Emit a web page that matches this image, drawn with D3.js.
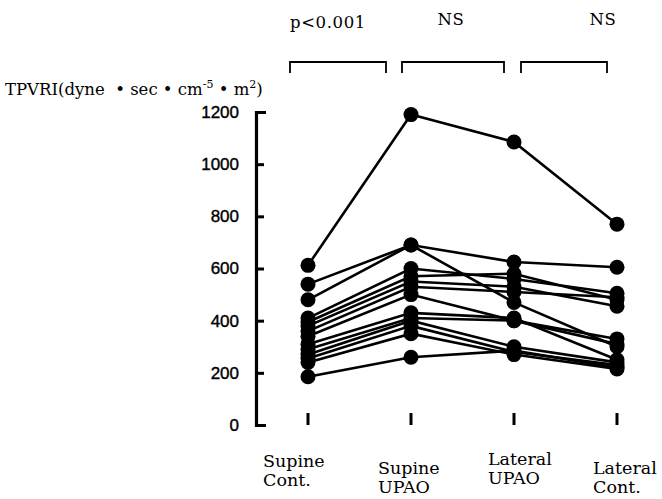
<!DOCTYPE html>
<html>
<head>
<meta charset="utf-8">
<script src="https://cdn.jsdelivr.net/npm/d3@7"></script>
<style>
  body { margin: 0; background: #fff; }
  svg { display: block; }
</style>
</head>
<body>
<div id="chart"></div>
<script>
// conditions on the x axis
var conditions = ['Supine Cont.', 'Supine UPAO', 'Lateral UPAO', 'Lateral Cont.'];
var condLines = [['Supine', 'Cont.'], ['Supine', 'UPAO'], ['Lateral', 'UPAO'], ['Lateral', 'Cont.']];

// TPVRI per subject, one array per condition (same subject order)
var supineCont  = [612, 540, 480, 410, 395, 380, 360, 340, 310, 290, 270, 255, 240, 185];
var supineUPAO  = [1190, 690, 690, 600, 570, 550, 530, 500, 430, 410, 400, 380, 350, 260];
var lateralUPAO = [1085, 625, 470, 560, 580, 530, 510, 400, 410, 400, 300, 280, 270, 285];
var lateralCont = [770, 605, 300, 505, 480, 455, 490, 310, 250, 330, 240, 230, 215, 220];

var yTicks = [0, 200, 400, 600, 800, 1000, 1200];

// comparisons between neighbouring conditions
var compLabels = ['p<0.001', 'NS', 'NS'];

var W = 662, H = 499;
var svg = d3.select('#chart').append('svg')
  .attr('width', W)
  .attr('height', H);

var x = d3.scalePoint()
  .domain(conditions)
  .range([308, 617]);

var y = d3.scaleLinear()
  .domain([0, 1200])
  .range([425, 112]);

var subjects = supineCont.map(function(d, i) {
  return [supineCont[i], supineUPAO[i], lateralUPAO[i], lateralCont[i]];
});

// y axis: ticks point into the plot
var yAxis = d3.axisLeft(y)
  .tickValues(yTicks)
  .tickSizeInner(-8)
  .tickSizeOuter(-10)
  .tickPadding(17)
  .tickFormat(d3.format('d'));

var gy = svg.append('g')
  .attr('transform', 'translate(256,0)')
  .call(yAxis);
gy.select('.domain').attr('stroke', '#000').attr('stroke-width', 3.2);
gy.selectAll('.tick line').attr('stroke', '#000').attr('stroke-width', 3);
gy.selectAll('.tick text')
  .attr('fill', '#000')
  .attr('stroke', '#000')
  .attr('stroke-width', 0.4)
  .style('font-family', '"Liberation Sans", Arial, sans-serif')
  .style('font-size', '17px');

// small ticks under each condition
svg.selectAll('.xtick')
  .data(conditions)
  .enter()
  .append('line')
  .attr('class', 'xtick')
  .attr('x1', function(d) { return x(d); })
  .attr('x2', function(d) { return x(d); })
  .attr('y1', 413)
  .attr('y2', 425)
  .attr('stroke', '#000')
  .attr('stroke-width', 3);

// x labels, staggered like the original
var labelDx = [-45, -33, -26, -24];
var labelY = [467, 474, 465, 474];
var xl = svg.selectAll('.xlabel')
  .data(condLines)
  .enter()
  .append('text')
  .attr('class', 'xlabel')
  .attr('x', function(d, i) { return x(conditions[i]) + labelDx[i]; })
  .attr('y', function(d, i) { return labelY[i]; })
  .style('font-family', '"DejaVu Serif", serif')
  .style('font-size', '17.5px')
  .attr('fill', '#000');
xl.each(function(d, i) {
  var t = d3.select(this);
  t.append('tspan').attr('x', x(conditions[i]) + labelDx[i]).text(d[0]);
  t.append('tspan').attr('x', x(conditions[i]) + labelDx[i]).attr('dy', 19).text(d[1]);
});

// subject lines
var line = d3.line()
  .x(function(d, i) { return x(conditions[i]); })
  .y(function(d) { return y(d); });

svg.selectAll('.subj')
  .data(subjects)
  .enter()
  .append('path')
  .attr('class', 'subj')
  .attr('d', line)
  .attr('fill', 'none')
  .attr('stroke', '#000')
  .attr('stroke-width', 2.6);

// dots
var pts = [];
subjects.forEach(function(s) {
  s.forEach(function(v, i) { pts.push({c: conditions[i], v: v}); });
});
svg.selectAll('.dot')
  .data(pts)
  .enter()
  .append('circle')
  .attr('class', 'dot')
  .attr('cx', function(d) { return x(d.c); })
  .attr('cy', function(d) { return y(d.v); })
  .attr('r', 7.5)
  .attr('fill', '#000');

// y label
var yl = svg.append('text')
  .attr('x', 5)
  .attr('y', 95)
  .style('font-family', '"DejaVu Serif", serif')
  .style('font-size', '16.5px')
  .attr('fill', '#000');
yl.append('tspan').text('TPVRI(dyne \u00a0\u2022 sec \u2022 cm');
yl.append('tspan').attr('dy', -7).style('font-size', '11px').text('-5');
yl.append('tspan').attr('dy', 7).text(' \u2022 m');
yl.append('tspan').attr('dy', -7).style('font-size', '11px').text('2');
yl.append('tspan').attr('dy', 7).text(')');

// comparison brackets
var brackets = [[290, 386], [402, 504], [521, 607]];
var textPos = [[290, 28, 'start'], [451, 25, 'middle'], [603, 25, 'middle']];
svg.selectAll('.bracket')
  .data(brackets)
  .enter()
  .append('path')
  .attr('class', 'bracket')
  .attr('d', function(d) {
    return 'M' + d[0] + ',73V62H' + d[1] + 'V73';
  })
  .attr('fill', 'none')
  .attr('stroke', '#000')
  .attr('stroke-width', 1.8);

svg.selectAll('.comp')
  .data(compLabels)
  .enter()
  .append('text')
  .attr('class', 'comp')
  .attr('x', function(d, i) { return textPos[i][0]; })
  .attr('y', function(d, i) { return textPos[i][1]; })
  .attr('text-anchor', function(d, i) { return textPos[i][2]; })
  .style('font-family', '"DejaVu Serif", serif')
  .style('font-size', '16.5px')
  .style('letter-spacing', '0.6px')
  .attr('fill', '#000')
  .text(function(d) { return d; });
</script>
</body>
</html>
